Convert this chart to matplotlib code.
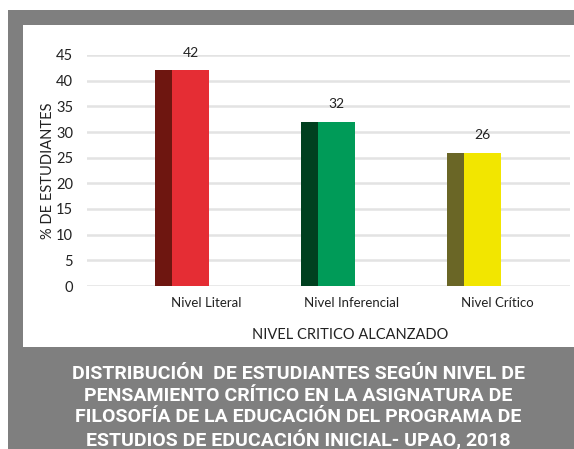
import matplotlib
matplotlib.use('Agg')
import matplotlib.pyplot as plt
from matplotlib.patches import Rectangle

# chart data
categories = ['Nivel Literal', 'Nivel Inferencial', 'Nivel Crítico']
percentages = [42, 32, 26]
dark_colors = ['#6e1610', '#00401f', '#6a6626']
light_colors = ['#e52d34', '#009b58', '#f2e600']
y_ticks = [0, 5, 10, 15, 20, 25, 30, 35, 40, 45]
title_lines = [
    'DISTRIBUCIÓN  DE ESTUDIANTES SEGÚN NIVEL DE',
    'PENSAMIENTO CRÍTICO EN LA ASIGNATURA DE',
    'FILOSOFÍA DE LA EDUCACIÓN DEL PROGRAMA DE',
    'ESTUDIOS DE EDUCACIÓN INICIAL- UPAO, 2018',
]

W, H = 574, 449
fig = plt.figure(figsize=(W / 100, H / 100), dpi=100)
fig.patch.set_facecolor('white')

grey = '#7f7f7f'


def px_rect(x0, y0, x1, y1):
    # rectangle given in pixel coords from the top-left corner
    return Rectangle((x0 / W, 1 - y1 / H), (x1 - x0) / W, (y1 - y0) / H,
                     transform=fig.transFigure, facecolor=grey, edgecolor='none', zorder=0)


fig.patches.append(px_rect(8, 10, W, 25))
fig.patches.append(px_rect(8, 10, 23, 347))
fig.patches.append(px_rect(8, 347, W, H))

# axes placed so that 0 sits at y=286 px and 45 at y=55 px
ax = fig.add_axes([87 / W, 1 - 286 / H, (570 - 87) / W, (286 - 55) / H])
ax.set_facecolor('none')

font = 'Lato'
x = list(range(len(categories)))
dark_w = 0.12
light_w = 0.25
for i, val in enumerate(percentages):
    left = i - (dark_w + light_w) / 2
    ax.bar(left, val, width=dark_w, align='edge', color=dark_colors[i], zorder=3)
    ax.bar(left + dark_w, val, width=light_w, align='edge', color=light_colors[i], zorder=3)
    ax.text(left + dark_w + light_w / 2, val + 2.3, str(val), ha='center', va='bottom',
            fontsize=10, family=font, color='#222222')

ax.set_xlim(-0.65, 2.66)
ax.set_ylim(0, 45)
ax.set_yticks(y_ticks)
ax.set_yticklabels([str(t) for t in y_ticks], family=font, fontsize=10.5, color='#222222')
ax.set_xticks([i + 0.165 for i in x])
ax.set_xticklabels(categories, family=font, fontsize=9.5, color='#222222')
ax.tick_params(axis='both', length=0)
ax.tick_params(axis='y', pad=10)
ax.tick_params(axis='x', pad=8)

for s in ax.spines.values():
    s.set_visible(False)
ax.grid(True, axis='y', color='#e3e3e3', linewidth=1.8, zorder=0)
ax.set_axisbelow(True)

ax.set_ylabel('% DE ESTUDIANTES', family=font, fontsize=10.5, color='#222222')
ax.yaxis.set_label_coords(-0.066, 0.5)
ax.set_xlabel('NIVEL CRITICO ALCANZADO', family=font, fontsize=10.5, color='#222222')
ax.xaxis.set_label_coords(0.545, -0.18)

# title in the grey band
for k, line in enumerate(title_lines):
    ypx = 374 + k * 21.6
    fig.text(298 / W, 1 - ypx / H, line, ha='center', va='center', color='white',
             fontsize=14, fontweight='bold', family='Roboto')

fig.savefig('out.png', dpi=100)
